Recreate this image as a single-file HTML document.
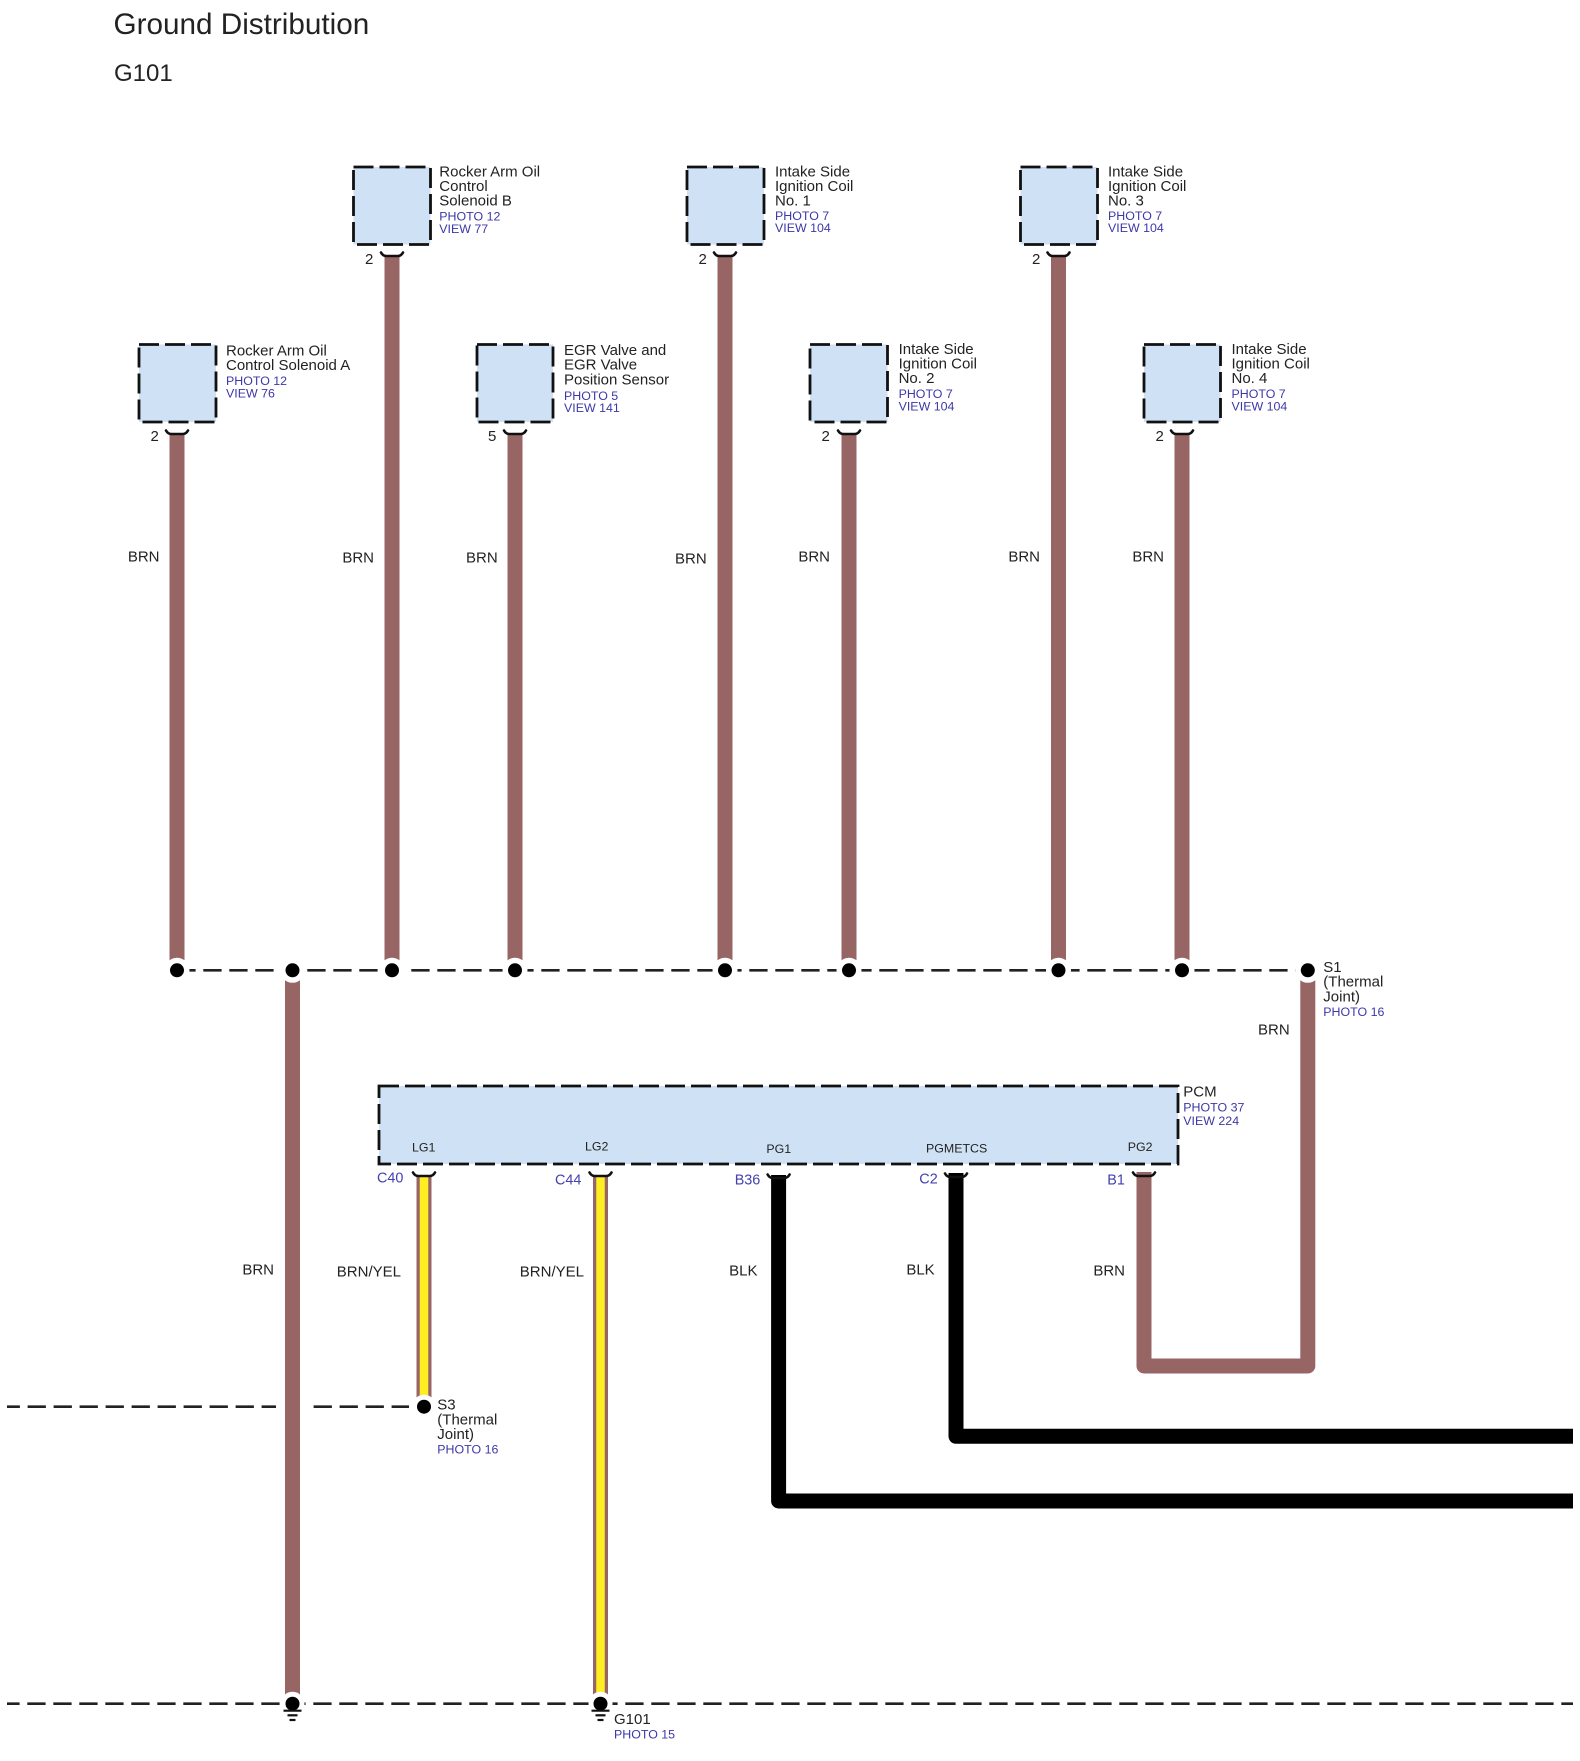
<!DOCTYPE html>
<html><head><meta charset="utf-8"><title>Ground Distribution G101</title>
<style>
html,body{margin:0;padding:0;background:#fff}
svg{display:block}
text{font-family:"Liberation Sans",sans-serif;font-size:15px;fill:#222}
.b{font-size:12.4px;fill:#3d38a8}
.c{font-size:14.4px;fill:#4440b0}
.p{font-size:12.4px;fill:#222}
.e{text-anchor:end}
.box{fill:#cfe2f5;stroke:#111;stroke-width:2.8;stroke-dasharray:20 6}
.bus{stroke:#222;stroke-width:2.6;stroke-dasharray:18.3 7.7;fill:none}
.w{stroke:#986565;stroke-width:15;fill:none;stroke-linejoin:round}
.k{stroke:#000;stroke-width:15;fill:none;stroke-linejoin:round}
.y{stroke:#ffee22;stroke-width:8.5;fill:none}
.a{stroke:#111;stroke-width:2.6;fill:none;stroke-linecap:round}
.g{stroke:#111;stroke-width:2.2}
</style></head><body>
<svg width="1580" height="1761" viewBox="0 0 1580 1761" xmlns="http://www.w3.org/2000/svg">
<rect width="1580" height="1761" fill="#fff"/>

<text x="113.5" y="34" style="font-size:29.7px">Ground Distribution</text>
<text x="114" y="81" style="font-size:24px">G101</text>

<!-- dashed buses -->
<line class="bus" x1="177.3" y1="970.3" x2="1307.8" y2="970.3"/>
<line class="bus" x1="7" y1="1406.7" x2="409" y2="1406.7" stroke-dashoffset="5.4"/>
<line class="bus" x1="7" y1="1703.7" x2="1573" y2="1703.7" stroke-dashoffset="5.7"/>

<!-- wires -->
<line class="w" x1="177" y1="433" x2="177" y2="970"/>
<line class="w" x1="392" y1="255" x2="392" y2="970"/>
<line class="w" x1="515" y1="433" x2="515" y2="970"/>
<line class="w" x1="725" y1="255" x2="725" y2="970"/>
<line class="w" x1="849" y1="433" x2="849" y2="970"/>
<line class="w" x1="1058.5" y1="255" x2="1058.5" y2="970"/>
<line class="w" x1="1182" y1="433" x2="1182" y2="970"/>
<rect x="276" y="1400" width="36" height="14" fill="#fff"/>
<line class="w" x1="292.5" y1="970" x2="292.5" y2="1704"/>
<line class="w" x1="424" y1="1175" x2="424" y2="1407"/>
<line class="y" x1="424" y1="1176" x2="424" y2="1396"/>
<line class="w" x1="600.5" y1="1175" x2="600.5" y2="1704"/>
<line class="y" x1="600.5" y1="1176" x2="600.5" y2="1693"/>
<path class="k" d="M778.6 1175V1501H1573"/>
<path class="k" d="M956 1173V1436.3H1573"/>
<path class="w" d="M1144 1172V1366H1307.8V970"/>

<!-- halos -->
<g fill="#fff">
<circle cx="177" cy="970.3" r="12.5"/><circle cx="292.5" cy="970.3" r="12.5"/>
<circle cx="392" cy="970.3" r="12.5"/><circle cx="515" cy="970.3" r="12.5"/>
<circle cx="725" cy="970.3" r="12.5"/><circle cx="849" cy="970.3" r="12.5"/>
<circle cx="1058.5" cy="970.3" r="12.5"/><circle cx="1182" cy="970.3" r="12.5"/>
<circle cx="1307.8" cy="970.3" r="12.5"/><circle cx="424" cy="1406.7" r="12"/>
<circle cx="292.5" cy="1703.7" r="12"/><circle cx="600.5" cy="1703.7" r="12"/>
</g>
<!-- dots -->
<g fill="#000">
<circle cx="177" cy="970.3" r="7"/><circle cx="292.5" cy="970.3" r="7"/>
<circle cx="392" cy="970.3" r="7"/><circle cx="515" cy="970.3" r="7"/>
<circle cx="725" cy="970.3" r="7"/><circle cx="849" cy="970.3" r="7"/>
<circle cx="1058.5" cy="970.3" r="7"/><circle cx="1182" cy="970.3" r="7"/>
<circle cx="1307.8" cy="970.3" r="7"/><circle cx="424" cy="1406.7" r="7"/>
<circle cx="292.5" cy="1703.7" r="7"/><circle cx="600.5" cy="1703.7" r="7"/>
</g>

<!-- ground symbols -->
<g class="g">
<line x1="283.5" y1="1710.7" x2="301.5" y2="1710.7"/><line x1="287.5" y1="1715.3" x2="297.5" y2="1715.3"/><line x1="289.5" y1="1720" x2="295.5" y2="1720"/>
<line x1="591.5" y1="1710.7" x2="609.5" y2="1710.7"/><line x1="595.5" y1="1715.3" x2="605.5" y2="1715.3"/><line x1="597.5" y1="1720" x2="603.5" y2="1720"/>
</g>

<!-- boxes -->
<rect class="box" x="139" y="344.5" width="77" height="77.5"/>
<rect class="box" x="353.5" y="167" width="77" height="77.5"/>
<rect class="box" x="477" y="344.5" width="76" height="77.5"/>
<rect class="box" x="687" y="167" width="77" height="77.5"/>
<rect class="box" x="810" y="344.5" width="77.5" height="77.5"/>
<rect class="box" x="1020.5" y="167" width="77" height="77.5"/>
<rect class="box" x="1144" y="344.5" width="76.5" height="77.5"/>
<rect class="box" x="379" y="1086" width="799" height="78"/>

<!-- connector arcs -->
<path class="a" d="M381 252.5Q383 256 386 256H398Q401 256 403 252.5"/>
<path class="a" d="M714 252.5Q716 256 719 256H731Q734 256 736 252.5"/>
<path class="a" d="M1047.5 252.5Q1049.5 256 1052.5 256H1064.5Q1067.5 256 1069.5 252.5"/>
<path class="a" d="M166 430.5Q168 434 171 434H183Q186 434 188 430.5"/>
<path class="a" d="M504 430.5Q506 434 509 434H521Q524 434 526 430.5"/>
<path class="a" d="M838 430.5Q840 434 843 434H855Q858 434 860 430.5"/>
<path class="a" d="M1171 430.5Q1173 434 1176 434H1188Q1191 434 1193 430.5"/>
<path class="a" d="M413 1172.5Q415 1176 418 1176H430Q433 1176 435 1172.5"/>
<path class="a" d="M589.5 1172.5Q591.5 1176 594.5 1176H606.5Q609.5 1176 611.5 1172.5"/>
<path class="a" d="M767.6 1174.5Q769.6 1178 772.6 1178H784.6Q787.6 1178 789.6 1174.5"/>
<path class="a" d="M945 1173.5Q947 1177 950 1177H962Q965 1177 967 1173.5"/>
<path class="a" d="M1133 1172.5Q1135 1176 1138 1176H1150Q1153 1176 1155 1172.5"/>

<!-- pin numbers -->
<text x="150.5" y="441">2</text>
<text x="365" y="264">2</text>
<text x="488" y="441">5</text>
<text x="698.5" y="264">2</text>
<text x="821.5" y="441">2</text>
<text x="1032" y="264">2</text>
<text x="1155.5" y="441">2</text>

<!-- component labels -->
<text x="226" y="355.3">Rocker Arm Oil</text><text x="226" y="370">Control Solenoid A</text>
<text class="b" x="226" y="385">PHOTO 12</text><text class="b" x="226" y="397.4">VIEW 76</text>

<text x="439.3" y="176.3">Rocker Arm Oil</text><text x="439.3" y="191">Control</text><text x="439.3" y="205.7">Solenoid B</text>
<text class="b" x="439.3" y="220.7">PHOTO 12</text><text class="b" x="439.3" y="233">VIEW 77</text>

<text x="564" y="355">EGR Valve and</text><text x="564" y="369.7">EGR Valve</text><text x="564" y="384.4">Position Sensor</text>
<text class="b" x="564" y="400">PHOTO 5</text><text class="b" x="564" y="412">VIEW 141</text>

<text x="775" y="176.3">Intake Side</text><text x="775" y="191">Ignition Coil</text><text x="775" y="205.7">No. 1</text>
<text class="b" x="775" y="220">PHOTO 7</text><text class="b" x="775" y="232.2">VIEW 104</text>

<text x="898.6" y="353.8">Intake Side</text><text x="898.6" y="368.5">Ignition Coil</text><text x="898.6" y="383.2">No. 2</text>
<text class="b" x="898.6" y="398.2">PHOTO 7</text><text class="b" x="898.6" y="410.5">VIEW 104</text>

<text x="1108" y="176.3">Intake Side</text><text x="1108" y="191">Ignition Coil</text><text x="1108" y="205.7">No. 3</text>
<text class="b" x="1108" y="220">PHOTO 7</text><text class="b" x="1108" y="232.2">VIEW 104</text>

<text x="1231.5" y="353.8">Intake Side</text><text x="1231.5" y="368.5">Ignition Coil</text><text x="1231.5" y="383.2">No. 4</text>
<text class="b" x="1231.5" y="398.2">PHOTO 7</text><text class="b" x="1231.5" y="410.5">VIEW 104</text>

<text x="1323.3" y="972">S1</text><text x="1323.3" y="986.7">(Thermal</text><text x="1323.3" y="1001.4">Joint)</text>
<text class="b" x="1323.3" y="1016">PHOTO 16</text>

<text x="1183.3" y="1096.7">PCM</text>
<text class="b" x="1183.3" y="1111.7">PHOTO 37</text><text class="b" x="1183.3" y="1125">VIEW 224</text>

<text x="437.3" y="1409.7">S3</text><text x="437.3" y="1424.4">(Thermal</text><text x="437.3" y="1439.1">Joint)</text>
<text class="b" x="437.3" y="1453.3">PHOTO 16</text>

<text x="614" y="1724">G101</text>
<text class="b" x="614" y="1738.3">PHOTO 15</text>

<!-- wire colour labels -->
<text class="e" x="159.5" y="561.3">BRN</text>
<text class="e" x="374" y="562.3">BRN</text>
<text class="e" x="497.7" y="562.3">BRN</text>
<text class="e" x="706.7" y="563.3">BRN</text>
<text class="e" x="830" y="561.3">BRN</text>
<text class="e" x="1040" y="561.3">BRN</text>
<text class="e" x="1164" y="561.3">BRN</text>
<text class="e" x="1289.7" y="1034.3">BRN</text>
<text class="e" x="274" y="1274.5">BRN</text>
<text class="e" x="401" y="1276.5">BRN/YEL</text>
<text class="e" x="584" y="1276.5">BRN/YEL</text>
<text class="e" x="757.5" y="1275.7">BLK</text>
<text class="e" x="934.7" y="1274.7">BLK</text>
<text class="e" x="1125" y="1275.7">BRN</text>

<!-- pin labels -->
<text class="p" x="412" y="1151.7">LG1</text>
<text class="p" x="585" y="1150.7">LG2</text>
<text class="p" x="766.4" y="1153">PG1</text>
<text class="p" x="926" y="1152.4">PGMETCS</text>
<text class="p" x="1127.7" y="1150.9">PG2</text>

<!-- pin codes -->
<text class="c" x="377" y="1182.7">C40</text>
<text class="c" x="555" y="1184.7">C44</text>
<text class="c" x="734.7" y="1184.3">B36</text>
<text class="c" x="919.3" y="1183.3">C2</text>
<text class="c" x="1107.3" y="1184.3">B1</text>
</svg>
</body></html>
